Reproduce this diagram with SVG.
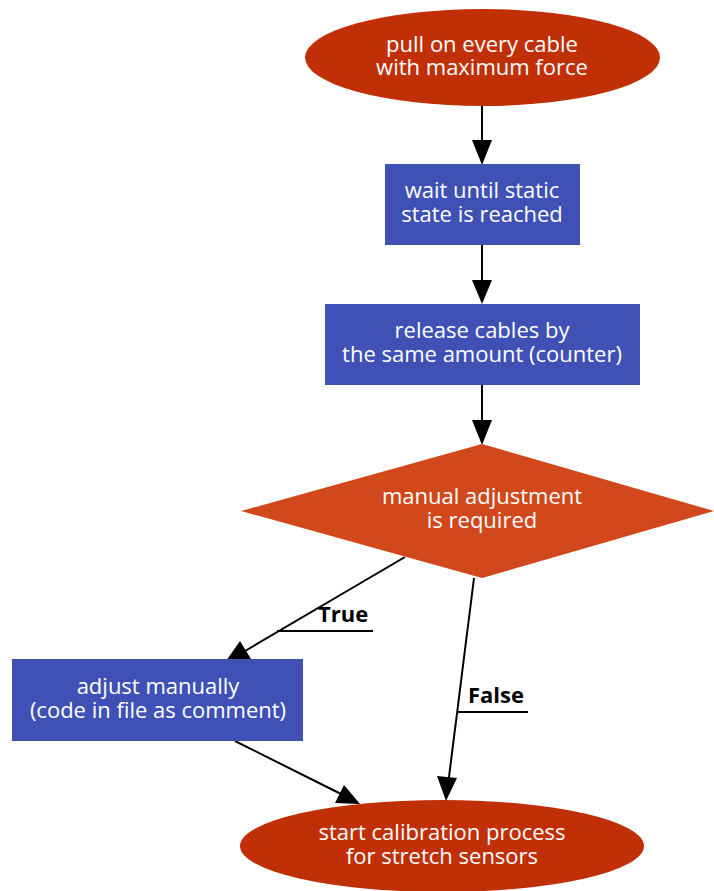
<svg xmlns="http://www.w3.org/2000/svg" width="714" height="891" viewBox="0 0 714 891">
<defs>
<style>
.t{font-family:"Open Sans","Noto Sans",sans-serif;font-size:22px;fill:#fff;text-anchor:middle}
.l{font-family:"Open Sans","Noto Sans",sans-serif;font-size:22px;font-weight:bold;fill:#000}
.e{stroke:#000;stroke-width:2;fill:none}
.h{fill:#000}
</style>
</defs>
<rect width="714" height="891" fill="#fff"/>
<g id="connectors">
<line class="e" x1="482" y1="106" x2="482" y2="150"/>
<path class="h" d="M472,140 L482,165 L492,140 z"/>
<line class="e" x1="482" y1="245" x2="482" y2="290"/>
<path class="h" d="M472,280 L482,304 L492,280 z"/>
<line class="e" x1="482" y1="385" x2="482" y2="430"/>
<path class="h" d="M472,420 L482,445 L492,420 z"/>
<line class="e" x1="405" y1="557" x2="245" y2="651"/>
<path class="h" d="M226,661 L240,641 L251,659 z"/>
<line class="e" x1="277" y1="631" x2="373" y2="631"/>
<text class="l" x="318" y="622">True</text>
<line class="e" x1="474" y1="578" x2="448" y2="785"/>
<path class="h" d="M446,801 L437,776 L457,778 z"/>
<line class="e" x1="458" y1="712" x2="528" y2="712"/>
<text class="l" x="468" y="703">False</text>
<line class="e" x1="235" y1="741" x2="343" y2="795"/>
<path class="h" d="M360,804 L335,803 L344,785 z"/>
</g>
<g id="n1">
<ellipse cx="482.5" cy="57.5" rx="177.5" ry="48.5" fill="#c12f07"/>
<text class="t" x="482" y="52">pull on every cable</text>
<text class="t" x="482" y="75">with maximum force</text>
</g>
<g id="n2">
<rect x="385" y="164" width="195" height="81" fill="#3f51b5"/>
<text class="t" x="482" y="198">wait until static</text>
<text class="t" x="482" y="222">state is reached</text>
</g>
<g id="n3">
<rect x="325" y="304" width="315" height="81" fill="#3f51b5"/>
<text class="t" x="482" y="338">release cables by</text>
<text class="t" x="482" y="362">the same amount (counter)</text>
</g>
<g id="n4">
<polygon points="482,444 714,511 482,578 241,511" fill="#d1481c"/>
<text class="t" x="482" y="504">manual adjustment</text>
<text class="t" x="482" y="528">is required</text>
</g>
<g id="n5">
<rect x="12" y="659" width="291" height="82" fill="#3f51b5"/>
<text class="t" x="158" y="694">adjust manually</text>
<text class="t" x="158" y="718">(code in file as comment)</text>
</g>
<g id="n6">
<ellipse cx="442" cy="846" rx="202" ry="46" fill="#c12f07"/>
<text class="t" x="442" y="840">start calibration process</text>
<text class="t" x="442" y="864">for stretch sensors</text>
</g>
</svg>
